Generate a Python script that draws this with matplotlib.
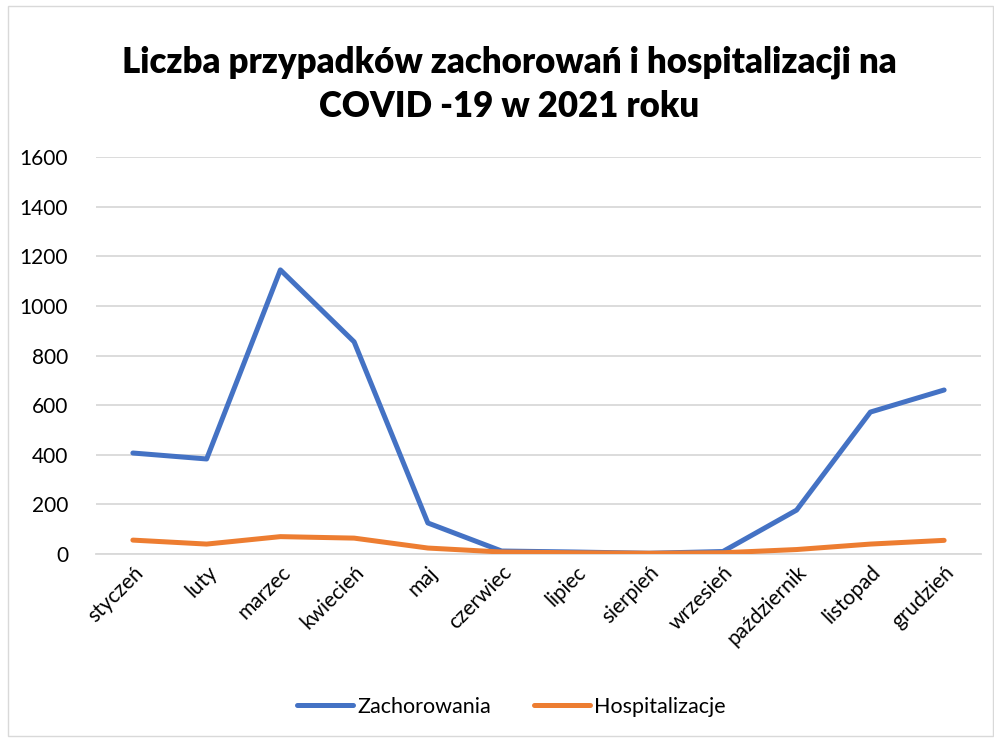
import matplotlib
matplotlib.use('Agg')
import matplotlib.pyplot as plt
from matplotlib.patches import Rectangle

months = ['styczeń', 'luty', 'marzec', 'kwiecień', 'maj', 'czerwiec', 'lipiec',
          'sierpień', 'wrzesień', 'październik', 'listopad', 'grudzień']
zachorowania = [407, 383, 1145, 855, 125, 12, 8, 3, 10, 177, 572, 661]
hospitalizacje = [56, 40, 70, 64, 24, 8, 5, 3, 5, 18, 40, 55]

plt.rcParams['font.family'] = ['Lato', 'DejaVu Sans']

fig = plt.figure(figsize=(9.95, 7.38), dpi=100)
W, H = 995, 738
ax = fig.add_axes([96 / W, 1 - 554 / H, (981 - 96) / W, (554 - 157) / H])

x = range(len(months))
ax.plot(x, zachorowania, color='#4472C4', lw=3.6, solid_capstyle='round',
        solid_joinstyle='round', label='Zachorowania', zorder=3)
ax.plot(x, hospitalizacje, color='#ED7D31', lw=3.6, solid_capstyle='round',
        solid_joinstyle='round', label='Hospitalizacje', zorder=3)

ax.set_xlim(-0.5, len(months) - 0.5)
ax.set_ylim(0, 1600)
ax.set_yticks(range(0, 1601, 200))
ax.yaxis.grid(True, color='#d9d9d9', lw=1.3)
ax.set_axisbelow(True)
ax.tick_params(axis='both', length=0, labelsize=15, colors='black')
ax.tick_params(axis='y', pad=20)
ax.tick_params(axis='x', pad=6)
ax.set_xticks(list(x))
ax.set_xticklabels(months, rotation=45, ha='right', rotation_mode='anchor')
for s in ax.spines.values():
    s.set_visible(False)
ax.spines['bottom'].set_visible(True)
ax.spines['bottom'].set_color('#d9d9d9')
ax.spines['bottom'].set_linewidth(1.3)

fig.text(0.512, 1 - 84 / H, 'Liczba przypadków zachorowań i hospitalizacji na\nCOVID -19 w 2021 roku',
         ha='center', va='center', fontsize=25, fontweight='heavy', linespacing=1.4)

fig.legend(loc='center', bbox_to_anchor=(0.514, 1 - 707 / H), ncol=2, frameon=False,
           fontsize=15.5, handlelength=2.6, columnspacing=2.0, handletextpad=0.2)

fig.patches.append(Rectangle((8 / W, 2 / H), (W - 10) / W, (H - 8) / H,
                             transform=fig.transFigure, fill=False,
                             edgecolor='#d9d9d9', lw=1))

fig.savefig('out.png', dpi=100)
